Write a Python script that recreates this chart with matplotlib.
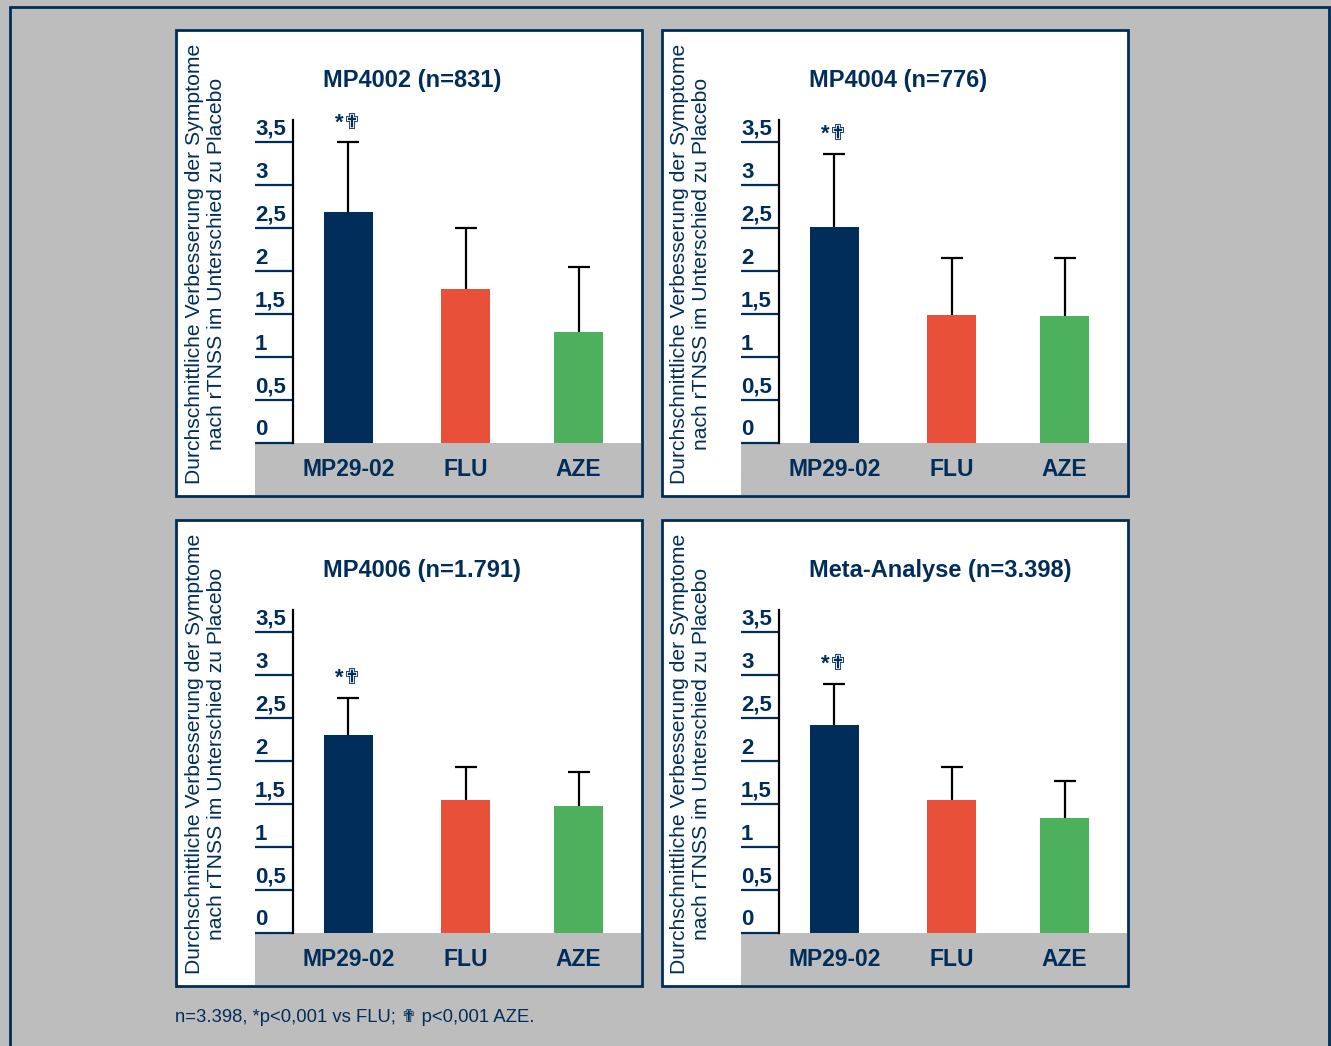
import numpy as np
import matplotlib.pyplot as plt
from matplotlib.patches import Rectangle
from matplotlib.transforms import blended_transform_factory

# data
groups = ['MP29-02', 'FLU', 'AZE']
titles = ['MP4002 (n=831)', 'MP4004 (n=776)', 'MP4006 (n=1.791)', 'Meta-Analyse (n=3.398)']
means = [
    [2.69, 1.79, 1.29],
    [2.51, 1.49, 1.48],
    [2.30, 1.55, 1.48],
    [2.42, 1.55, 1.34],
]
upper = [
    [3.50, 2.50, 2.05],
    [3.37, 2.15, 2.15],
    [2.74, 1.93, 1.88],
    [2.90, 1.93, 1.77],
]
yticks = [0, 0.5, 1, 1.5, 2, 2.5, 3, 3.5]
yticklabels = ['0', '0,5', '1', '1,5', '2', '2,5', '3', '3,5']
positions = [0, 1, 1.96]
ylabel = 'Durchschnittliche Verbesserung der Symptome\nnach rTNSS im Unterschied zu Placebo'
footnote = 'n=3.398, *p<0,001 vs FLU; \u271f p<0,001 AZE.'

NAVY = '#002d5a'
BAR_COLORS = ['#002d5a', '#e8503a', '#4db05c']
GRAY = '#bdbdbd'

plt.rcParams['font.family'] = ['Liberation Sans', 'DejaVu Sans']

W, H = 1331, 1046
fig = plt.figure(figsize=(W / 100, H / 100), dpi=100)
fig.patch.set_facecolor(GRAY)


def box(x0, y0, x1, y1):
    # pixel box (top-left origin) -> figure fraction rect
    return [x0 / W, 1 - y1 / H, (x1 - x0) / W, (y1 - y0) / H]


def add_rect(x0, y0, x1, y1, **kw):
    l, b, w, h = box(x0, y0, x1, y1)
    fig.patches.append(Rectangle((l, b), w, h, transform=fig.transFigure, **kw))


# outer frame
add_rect(10, 7, 1329, 1060, facecolor='none', edgecolor=NAVY, lw=2, zorder=0)

offsets = [(176, 30), (662, 30), (176, 520), (662, 520)]

for i, (ox, oy) in enumerate(offsets):
    # white panel with navy border
    add_rect(ox, oy, ox + 466, oy + 466, facecolor='white', edgecolor=NAVY, lw=2, zorder=0)
    # grey band for category labels
    add_rect(ox + 79, oy + 413, ox + 465, oy + 465, facecolor=GRAY, edgecolor='none', zorder=1)

    ax = fig.add_axes(box(ox + 117, oy + 90, ox + 466, oy + 413))
    ax.set_zorder(2)
    ax.set_facecolor('none')
    ax.bar(positions, means[i], width=0.417, color=BAR_COLORS, zorder=2)
    err = np.array(upper[i]) - np.array(means[i])
    eb = ax.errorbar(positions, means[i], yerr=[np.zeros(3), err], fmt='none',
                     ecolor='black', elinewidth=1.6, capsize=8, capthick=1.6, zorder=3)
    # only keep the upper cap
    eb[1][0].set_visible(False)

    ax.set_ylim(0, 3.76)
    ax.set_xlim(-0.47, 2.5)
    for s in ['top', 'right', 'bottom']:
        ax.spines[s].set_visible(False)
    ax.spines['left'].set_color('black')
    ax.spines['left'].set_linewidth(1.6)
    ax.set_yticks(yticks)
    ax.set_yticklabels([])
    ax.tick_params(axis='y', length=27.4, width=1.6, color=NAVY, direction='out')
    ax.set_xticks([])

    tr = blended_transform_factory(ax.transAxes, ax.transData)
    for v, lab in zip(yticks, yticklabels):
        ax.text(-38 / 349, v + 0.03, lab, transform=tr, ha='left', va='bottom',
                fontsize=16, fontweight='bold', color=NAVY, clip_on=False)

    # category labels in grey band
    for p, g in zip(positions, groups):
        ax.text(p, -0.31, g, ha='center', va='center', fontsize=16.5,
                fontweight='bold', color=NAVY, clip_on=False)

    ax.text(positions[0], upper[i][0] + 0.1, '*\u271f', ha='center', va='bottom',
            fontsize=16, fontweight='bold', color=NAVY, clip_on=False)

    fig.text((ox + 147) / W, 1 - (oy + 50) / H, titles[i], ha='left', va='center',
             fontsize=17, fontweight='bold', color=NAVY)

    fig.text((ox + 29) / W, 1 - (oy + 234) / H, ylabel, rotation=90, ha='center',
             va='center', multialignment='center', fontsize=15.2, color=NAVY,
             linespacing=1.2)

fig.text(175 / W, 1 - 1018 / H, footnote, ha='left', va='center', fontsize=13.3, color=NAVY)

fig.savefig('out.png', dpi=100, facecolor=fig.get_facecolor())
